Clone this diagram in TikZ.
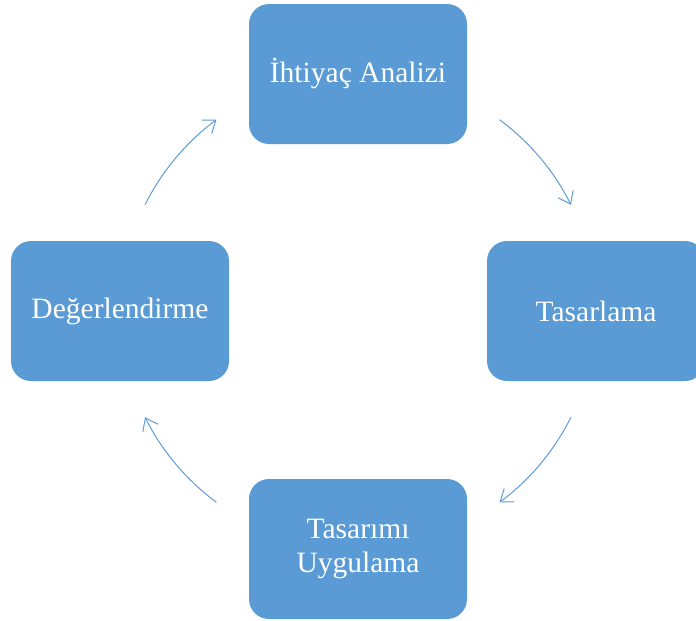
\documentclass[tikz,border=0pt]{standalone}
\usepackage{fontspec}
\setmainfont{Liberation Serif}
\usetikzlibrary{arrows.meta}
\definecolor{stageblue}{HTML}{5B9BD5}
\tikzset{
  stage/.style={rectangle, rounded corners=0.5cm, fill=stageblue, draw=none,
    minimum width=5.45cm, minimum height=3.5cm, text=white, align=center,
    font=\fontsize{21}{23.5}\selectfont},
  cyclearrow/.style={draw=stageblue, line width=0.7pt,
    -{Straight Barb[length=2.8mm,width=4.2mm]}}
}
\begin{document}
\begin{tikzpicture}
\useasboundingbox (0,0) rectangle (17.4,-15.525);
\coordinate (hub) at (8.95,-7.775);
\node[stage] (need) at (8.95,-1.85) {İhtiyaç Analizi};
\node[stage] (design) at (14.9,-7.775) {Tasarlama};
\node[stage] (apply) at (8.95,-13.725) {Tasarımı\\Uygulama};
\node[stage] (eval) at (3.0,-7.775) {Değerlendirme};
% arcs round the hub, one between each pair of stages
\foreach \a in {53.5,-26.5,-126.5,153.5}
  \draw[cyclearrow] ([shift={(\a:5.95)}]hub) arc[start angle=\a, delta angle=-27, radius=5.95];
\end{tikzpicture}
\end{document}
